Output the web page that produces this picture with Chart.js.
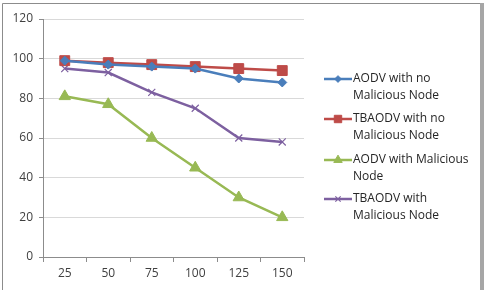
<!DOCTYPE html>
<html>
<head>
<meta charset="utf-8">
<script src="https://cdn.jsdelivr.net/npm/chart.js@4"></script>
<style>
  html, body { margin: 0; padding: 0; background: #fff; }
  #wrap { width: 488px; height: 290px; position: relative; }
</style>
</head>
<body>
<div id="wrap"><canvas id="chart" width="488" height="290"></canvas></div>
<script>
const categories = ["25", "50", "75", "100", "125", "150"];
const aodvNoMal = [99, 97, 96, 95, 90, 88];
const tbaodvNoMal = [99, 98, 97, 96, 95, 94];
const aodvMal = [81, 77, 60, 45, 30, 20];
const tbaodvMal = [95, 93, 83, 75, 60, 58];
const legendLines = [
    ["AODV with no", "Malicious Node"],
    ["TBAODV with no", "Malicious Node"],
    ["AODV with Malicious", "Node"],
    ["TBAODV with", "Malicious Node"]
];

const FONT = "'Open Sans', 'Liberation Sans', sans-serif";

function series(label, data, color, style, radius) {
    return {
        label, data,
        borderColor: color, backgroundColor: color,
        borderWidth: 2.5,
        pointStyle: style, pointRadius: radius,
        pointBorderColor: color, pointBackgroundColor: color,
        pointBorderWidth: style === "crossRot" ? 1.2 : 1,
        tension: 0
    };
}

const frame = {
    id: "frame",
    beforeDraw(chart) {
        const ctx = chart.ctx;
        ctx.save();
        ctx.fillStyle = "#fff";
        ctx.fillRect(0, 0, chart.width, chart.height);
        ctx.strokeStyle = "#8c8c8c";
        ctx.lineWidth = 1;
        ctx.beginPath();
        ctx.moveTo(2.5, 290);
        ctx.lineTo(2.5, 3.5);
        ctx.lineTo(480, 3.5);
        ctx.stroke();
        ctx.fillStyle = "#a6a6a6";
        ctx.fillRect(480, 3, 4, 287);
        ctx.restore();
    }
};

// legend on the right, two lines per entry like the original
const sideLegend = {
    id: "sideLegend",
    afterDraw(chart) {
        const ctx = chart.ctx;
        const tops = [79, 119, 160, 199];
        ctx.save();
        chart.data.datasets.forEach((ds, i) => {
            const y = tops[i];
            ctx.strokeStyle = ds.borderColor;
            ctx.fillStyle = ds.borderColor;
            ctx.lineWidth = 2.5;
            ctx.beginPath();
            ctx.moveTo(324, y);
            ctx.lineTo(352, y);
            ctx.stroke();
            ctx.lineWidth = ds.pointBorderWidth;
            Chart.helpers.drawPoint(ctx, {
                pointStyle: ds.pointStyle,
                radius: ds.pointRadius * 0.75,
                borderWidth: ds.pointBorderWidth,
                rotation: 0
            }, 338, y);
            ctx.fillStyle = "#262626";
            ctx.font = "12px " + FONT;
            ctx.textBaseline = "middle";
            legendLines[i].forEach((t, j) => ctx.fillText(t, 353, y + j * 16.5));
        });
        ctx.restore();
    }
};

new Chart(document.getElementById("chart").getContext("2d"), {
    type: "line",
    data: {
        labels: categories,
        datasets: [
            series("AODV with no Malicious Node", aodvNoMal, "#4A7EBB", "rectRot", 4.5),
            series("TBAODV with no Malicious Node", tbaodvNoMal, "#BE4B48", "rect", 7),
            series("AODV with Malicious Node", aodvMal, "#98B954", "triangle", 6.5),
            series("TBAODV with Malicious Node", tbaodvMal, "#7D60A0", "crossRot", 5)
        ]
    },
    options: {
        responsive: false,
        animation: false,
        events: [],
        layout: { padding: { top: 19, right: 184, left: 0, bottom: 0 } },
        plugins: {
            legend: { display: false },
            tooltip: { enabled: false },
            title: { display: false }
        },
        scales: {
            x: {
                offset: true,
                grid: { offset: true, drawOnChartArea: false, drawTicks: true, tickLength: 5, color: "#8c8c8c" },
                border: { color: "#8c8c8c" },
                ticks: { color: "#404040", font: { family: FONT, size: 12 }, padding: 4 },
                afterFit(s) { s.height = 33; }
            },
            y: {
                min: 0, max: 120,
                ticks: { stepSize: 20, color: "#404040", font: { family: FONT, size: 12 }, padding: 6 },
                grid: { color: "#d9d9d9", tickLength: 4, tickColor: "#8c8c8c" },
                border: { color: "#8c8c8c" },
                afterFit(s) { s.width = 43; }
            }
        }
    },
    plugins: [frame, sideLegend]
});
</script>
</body>
</html>
